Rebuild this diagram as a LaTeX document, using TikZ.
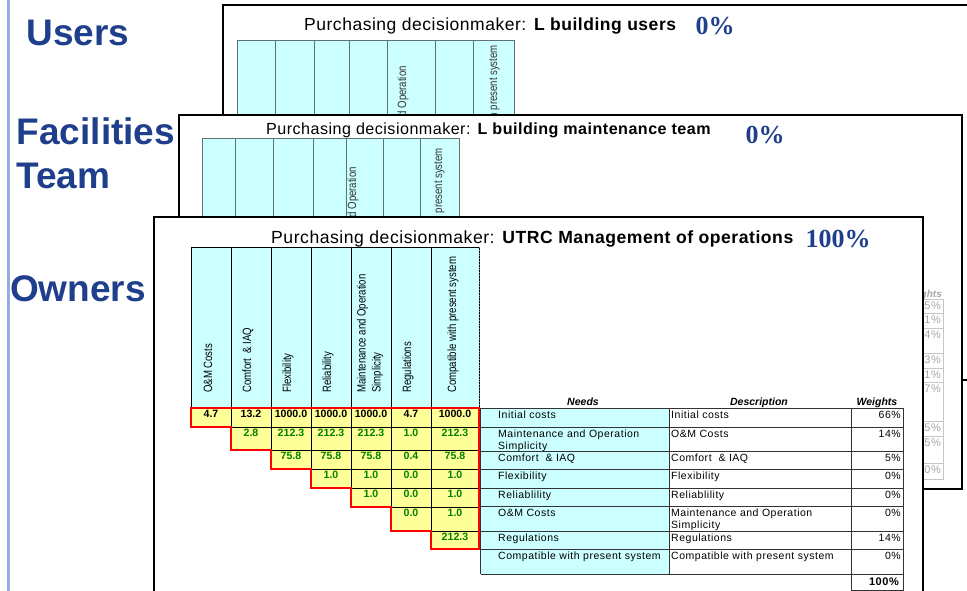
\documentclass[tikz,border=0pt]{standalone}
\usepackage{fontspec}
\setmainfont{Liberation Sans}
\newfontfamily\titlefont[LetterSpace=3]{Liberation Sans}
\newfontfamily\sheetfont[LetterSpace=5]{Liberation Sans}
\newfontfamily\narrowfont[FakeStretch=0.8]{Liberation Sans}
\newfontfamily\pctfont{Liberation Serif}
\usetikzlibrary{positioning}

\definecolor{slideblue}{RGB}{31,63,140}
\definecolor{barblue}{RGB}{150,172,228}
\definecolor{hdrcyan}{RGB}{204,255,255}
\definecolor{cellyellow}{RGB}{255,255,153}
\definecolor{numgreen}{RGB}{0,128,0}
\definecolor{gridteal}{RGB}{95,115,115}

\tikzset{
  sheet/.style={draw=black, line width=2pt, fill=white},
  hdrback/.style={draw=gridteal, line width=0.9pt, fill=hdrcyan},
  hdrfront/.style={draw=black, line width=0.7pt, fill=hdrcyan},
  cellbox/.style={draw=black, line width=0.6pt, fill=cellyellow},
  group/.style={font=\fontsize{37}{40}\selectfont\bfseries, text=slideblue,
                anchor=base west, inner sep=0},
  share/.style={font=\pctfont\fontsize{26}{28}\selectfont\bfseries,
                text=slideblue, inner sep=0},
  title/.style={anchor=base west, inner sep=0},
  coltext/.style={font=\narrowfont\fontsize{12}{15}\selectfont, rotate=90,
                  inner sep=0, align=left},
  cellnum/.style={font=\fontsize{10.6}{12}\selectfont\bfseries, inner sep=0},
  celltext/.style={font=\sheetfont\fontsize{10.5}{12}\selectfont, inner sep=0,
                   align=left, anchor=north west},
  weighttext/.style={font=\sheetfont\fontsize{10.5}{12}\selectfont, inner sep=0,
                     anchor=north east},
  tablehead/.style={font=\fontsize{10.5}{12}\selectfont\bfseries\itshape,
                    inner sep=0, anchor=base},
  fade/.style={text=gray!70, font=\sheetfont\fontsize{11}{12}\selectfont}
}

\begin{document}
\begin{tikzpicture}[x=1pt, y=-1pt]
  \useasboundingbox (0,0) rectangle (967,591);
  \clip (0,0) rectangle (967,591);

  % side bar and group names
  \draw[barblue, line width=3pt] (8.5,0) -- (8.5,591);
  \node[group] (users) at (26.5,46) {Users};
  \node[group] (facil) at (16.5,145) {Facilities};
  \node[group] (team) at (16,189) {Team};
  \node[group] (owners) at (10,301) {Owners};

  % Users sheet (back)
  \draw[sheet] (223,5) rectangle (985,380);
  \node[title, font=\titlefont\fontsize{17.5}{19}\selectfont] (utitle) at (304,31)
    {Purchasing decisionmaker: \textbf{L building users}};
  \node[share] (ushare) at (715,26) {0\%};
  \foreach \xa/\xb in {237/275,275/314,314/349,349/387,387/435,435/473,473/514}
    \draw[hdrback] (\xa,40) rectangle (\xb,200);
  \node[coltext, anchor=east, text=black!80] (uneed5) at (403,66) {Maintenance and Operation};
  \node[coltext, anchor=east, text=black!80] (uneed7) at (494,45) {Compatible with present system};

  % Facilities sheet (middle)
  \draw[sheet] (179,115) rectangle (962,489);
  \node[title, font=\titlefont\fontsize{16.1}{18}\selectfont] (ftitle) at (266,135)
    {Purchasing decisionmaker: \textbf{L building maintenance team}};
  \node[share] (fshare) at (765,135.5) {0\%};
  \foreach \xa/\xb in {202/235,235/273,273/313,313/346,346/383,383/420,420/459}
    \draw[hdrback] (\xa,138) rectangle (\xb,300);
  \node[coltext, anchor=east, text=black!80] (fneed5) at (353,167) {Maintenance and Operation};
  \node[coltext, anchor=east, text=black!80] (fneed7) at (439,148) {Compatible with present system};
  % faded weights column peeking out on the right
  \node[fade, font=\fontsize{10}{11}\selectfont\bfseries\itshape,
        anchor=base east, inner sep=0] (fwhead) at (942,297) {Weights};
  \foreach \ya/\yb/\v in {299/313/25\%,313/328/21\%,328/353/24\%,353/368/13\%,
                          368/382/11\%,382/421/17\%,421/436/15\%,436/463/5\%,463/479/0\%}{
    \draw[gray!45, line width=0.8pt] (860,\ya) rectangle (943,\yb);
    \node[fade, anchor=north east, inner sep=0] at (941,{\ya+3}) {\v};
  }

  % Owners sheet (front)
  \draw[sheet] (154,217) rectangle (923,640);
  \node[title, font=\titlefont\fontsize{17.6}{19}\selectfont] (otitle) at (271,243)
    {Purchasing decisionmaker: \textbf{UTRC Management of operations}};
  \node[share] (oshare) at (838,239) {100\%};
  \foreach \xa/\xb in {191/231,231/271,271/311,311/351,351/391,391/431,431/479}
    \draw[hdrfront] (\xa,247) rectangle (\xb,408);
  \draw[gray, dotted, line width=0.8pt] (479,247) -- (479,408);
  \node[coltext, anchor=west] (need1) at (208,393) {O\&M Costs};
  \node[coltext, anchor=west] (need2) at (248,393) {Comfort\ \ \& IAQ};
  \node[coltext, anchor=west] (need3) at (288,393) {Flexibility};
  \node[coltext, anchor=west] (need4) at (328,393) {Reliability};
  \node[coltext, anchor=west] (need5) at (370,393) {Maintenance and Operation\\Simplicity};
  \node[coltext, anchor=west] (need6) at (408,393) {Regulations};
  \node[coltext, anchor=west] (need7) at (453,393) {Compatible with present system};

  % pairwise comparison triangle
  % row 1
  \foreach \xa/\xb/\v in {191/231/4.7,231/271/13.2,271/311/1000.0,311/351/1000.0,
                          351/391/1000.0,391/431/4.7,431/479/1000.0}{
    \draw[cellbox] (\xa,408) rectangle (\xb,427);
    \node[cellnum] at ({(\xa+\xb)/2},414) {\v};
  }
  % rows 2 to 7
  \foreach \ya/\yb/\xa/\xb/\v in {427/450/231/271/2.8,427/450/271/311/212.3,427/450/311/351/212.3,
      427/450/351/391/212.3,427/450/391/431/1.0,427/450/431/479/212.3,
      450/469/271/311/75.8,450/469/311/351/75.8,450/469/351/391/75.8,
      450/469/391/431/0.4,450/469/431/479/75.8,
      469/488/311/351/1.0,469/488/351/391/1.0,469/488/391/431/0.0,469/488/431/479/1.0,
      488/507/351/391/1.0,488/507/391/431/0.0,488/507/431/479/1.0,
      507/531/391/431/0.0,507/531/431/479/1.0,
      531/549/431/479/212.3}{
    \draw[cellbox] (\xa,\ya) rectangle (\xb,\yb);
    \node[cellnum, text=numgreen] at ({(\xa+\xb)/2},{\ya+6}) {\v};
  }
  \draw[red, line width=2.6pt, line join=miter]
    (191,408) -- (479,408) -- (479,549) -- (431,549) -- (431,531) -- (391,531)
    -- (391,507) -- (351,507) -- (351,488) -- (311,488) -- (311,469) -- (271,469)
    -- (271,450) -- (231,450) -- (231,427) -- (191,427) -- cycle;

  % needs table
  \fill[hdrcyan] (480.5,408) rectangle (669,574);
  \foreach \yr in {408,427,451,469,488,506,531,549,574}
    \draw[black!80, line width=0.7pt] (480.5,\yr) -- (903,\yr);
  \foreach \xc in {480.5,669,851,903}
    \draw[black!80, line width=0.7pt] (\xc,408) -- (\xc,574);
  \draw[black!80, line width=0.7pt] (851,574) -- (851,590) -- (903,590) -- (903,574);
  \node[tablehead] (hneeds) at (583,405.5) {Needs};
  \node[tablehead] (hdesc) at (759,405.5) {Description};
  \node[tablehead] (hweight) at (877,405.5) {Weights};
  \foreach \yt/\n/\d/\w in {408/Initial costs/Initial costs/66\%,
      427/Maintenance and Operation\\Simplicity/O\&M Costs/14\%,
      451/Comfort\ \ \& IAQ/Comfort\ \ \& IAQ/5\%,
      469/Flexibility/Flexibility/0\%,
      488/Reliablility/Reliablility/0\%,
      506/O\&M Costs/Maintenance and Operation\\Simplicity/0\%,
      531/Regulations/Regulations/14\%,
      549/Compatible with present system/Compatible with present system/0\%}{
    \node[celltext] at (498,{\yt+3}) {\n};
    \node[celltext] at (671,{\yt+3}) {\d};
    \node[weighttext] at (901,{\yt+3}) {\w};
  }
  \node[weighttext, font=\sheetfont\fontsize{11}{12}\selectfont\bfseries] (total)
    at (899,{574+3.5}) {100\%};
\end{tikzpicture}
\end{document}
